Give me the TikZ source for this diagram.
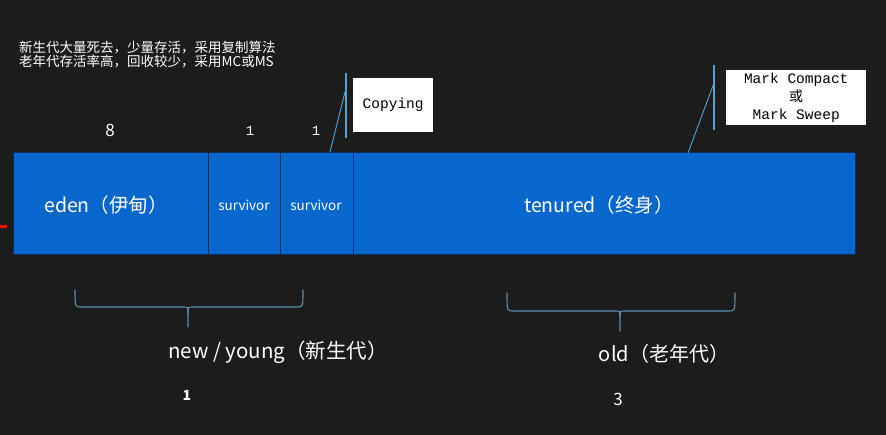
\documentclass[tikz,border=0pt]{standalone}
\usepackage{fontspec}
\newfontfamily\cjk{Noto Sans CJK SC}
\newfontfamily\mono{Liberation Mono}
\definecolor{bg}{HTML}{1C1C1C}
\definecolor{barblue}{HTML}{0867CC}
\definecolor{barline}{HTML}{0B2E5A}
\definecolor{leader}{HTML}{4FA3D8}
\definecolor{bracecol}{HTML}{5F8FAE}
\tikzset{
  seg/.style={draw=barline, line width=1pt, fill=barblue, anchor=north west, inner sep=0pt, outer sep=0pt, minimum height=102pt},
  segtxt/.style={text=white, font=\cjk\fontsize{19.5}{22}\selectfont},
  wtxt/.style={text=white, inner sep=0pt},
  tagbox/.style={fill=white, draw=none, inner sep=0pt, anchor=north west},
  lead/.style={draw=leader, line width=1.2pt},
  brc/.style={draw=bracecol, line width=1.1pt, line cap=round}
}
\begin{document}
\begin{tikzpicture}[x=1pt,y=-1pt]
\fill[bg] (0,0) rectangle (886,435);
\useasboundingbox (0,0) rectangle (886,435);
% top-left notes
\node[wtxt, anchor=west, font=\cjk\fontsize{13.5}{14}\selectfont] (n1) at (19,48) {新生代大量死去，少量存活，采用复制算法};
\node[wtxt, anchor=west, font=\cjk\fontsize{13.5}{14}\selectfont] (n2) at (19,62) {老年代存活率高，回收较少，采用MC或MS};
% red mark
\coordinate (r1) at (0,226.5);
\coordinate (r2) at (7,226.5);
\draw[red, line width=3pt] (r1) -- (r2);
% bar
\node[seg, minimum width=195pt] (eden) at (13,153) {};
\node[seg, minimum width=72pt] (s1) at (208,153) {};
\node[seg, minimum width=73pt] (s2) at (280,153) {};
\node[seg, minimum width=502pt] (ten) at (353,153) {};
\node[segtxt] (edent) at (106,205) {eden（伊甸）};
\node[text=white, font=\cjk\fontsize{13.5}{15}\selectfont] (s1t) at (244,205) {survivor};
\node[text=white, font=\cjk\fontsize{13.5}{15}\selectfont] (s2t) at (316,205) {survivor};
\node[segtxt] (tent) at (599,205) {tenured（终身）};
% numbers above
\node[wtxt, font=\cjk\fontsize{17}{18}\selectfont] (k8) at (110,130) {8};
\node[wtxt, font=\mono\fontsize{14}{15}\selectfont] (k1a) at (250,131) {1};
\node[wtxt, font=\mono\fontsize{14}{15}\selectfont] (k1b) at (316,131) {1};
% Copying tag
\node[tagbox, minimum width=80pt, minimum height=54pt] (cp) at (353,78) {};
\node[font=\mono\fontsize{14.5}{16}\selectfont] (cpt) at (cp.center) {Copying};
\coordinate (cva) at (346,73);
\coordinate (cvb) at (346,138);
\coordinate (csa) at (330,152);
\coordinate (csb) at (346,88);
\draw[lead] (cva) -- (cvb);
\draw[lead, line width=0.9pt] (csa) -- (csb);
% Mark tag
\node[tagbox, minimum width=140pt, minimum height=55pt] (mk) at (726,70) {};
\node[font=\mono\fontsize{14.5}{16}\selectfont, align=center, inner sep=0pt] (mkt) at (mk.center) {Mark Compact\\[2pt]{\cjk\fontsize{14}{14}\selectfont 或}\\[2pt]Mark Sweep};
\coordinate (mva) at (714,65);
\coordinate (mvb) at (714,130);
\coordinate (msa) at (688,153);
\coordinate (msb) at (714,83);
\draw[lead] (mva) -- (mvb);
\draw[lead, line width=0.9pt] (msa) -- (msb);
% new brace
\coordinate (nb0) at (75,290);
\coordinate (nb1) at (303,290);
\coordinate (nbt) at (188,327);
\draw[brc] (nb0) .. controls (75,307) .. (81,307) -- (183,307) .. controls (188,307) .. (188,313) -- (nbt);
\draw[brc] (nb1) .. controls (303,307) .. (297,307) -- (193,307) .. controls (188,307) .. (188,313);
% old brace
\coordinate (ob0) at (507,293);
\coordinate (ob1) at (735,293);
\coordinate (obt) at (620,331);
\draw[brc] (ob0) .. controls (507,311) .. (513,311) -- (615,311) .. controls (620,311) .. (620,317) -- (obt);
\draw[brc] (ob1) .. controls (735,311) .. (729,311) -- (625,311) .. controls (620,311) .. (620,317);
% group labels
\node[wtxt, font=\cjk\fontsize{20.5}{22}\selectfont] (newl) at (278,352) {new / young（新生代）};
\node[wtxt, font=\cjk\fontsize{20}{22}\selectfont] (oldl) at (664,354) {old（老年代）};
\node[wtxt, font=\cjk\bfseries\fontsize{14}{15}\selectfont] (c1) at (187,395) {1};
\node[wtxt, font=\cjk\fontsize{17}{18}\selectfont] (c3) at (618,399) {3};
\end{tikzpicture}
\end{document}
